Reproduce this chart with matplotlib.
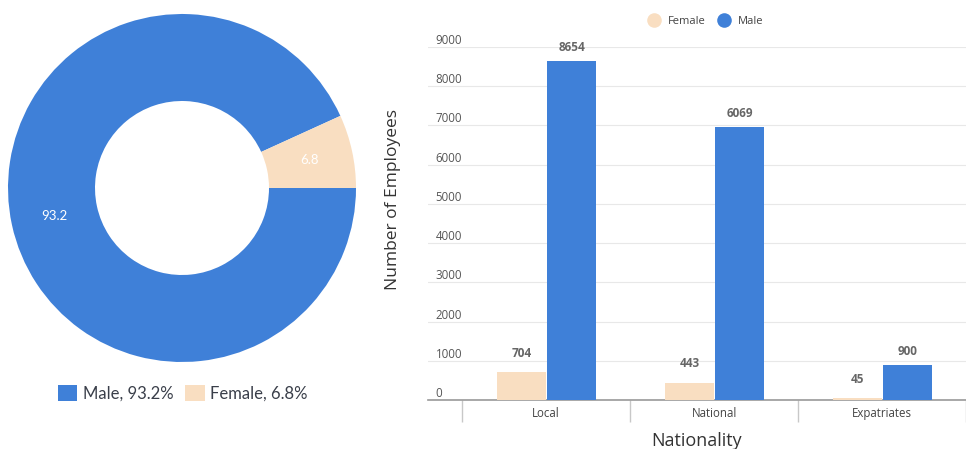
import numpy as np
import matplotlib
matplotlib.use("Agg")
import matplotlib.pyplot as plt
from matplotlib.lines import Line2D
from matplotlib.patches import Patch

# donut data
gender_labels = ["Male", "Female"]
gender_share = [93.2, 6.8]

# bar data
nationality = ["Local", "National", "Expatriates"]
female_counts = [704, 443, 45]
male_counts = [8654, 6960, 900]
female_text = ["704", "443", "45"]
male_text = ["8654", "6069", "900"]
y_ticks = [0, 1000, 2000, 3000, 4000, 5000, 6000, 7000, 8000, 9000]

BLUE = "#3F80D8"
PEACH = "#F9DEC1"

W, H = 966, 449
fig = plt.figure(figsize=(W / 100, H / 100), dpi=100)

# ---- donut ----
ax1 = fig.add_axes([8 / W, (H - 362) / H, 348 / W, 348 / H])
wedges, _, autotexts = ax1.pie(gender_share, colors=[BLUE, PEACH], startangle=0,
                               counterclock=False, radius=1,
                               autopct=lambda p: "%.1f" % p, pctdistance=0.75,
                               wedgeprops=dict(width=0.5, edgecolor="none"),
                               textprops=dict(color="white", fontsize=9.5,
                                              family="Lato"))
ax1.set_xlim(-1, 1)
ax1.set_ylim(-1, 1)
ax1.set_aspect("equal")
handles = [Patch(facecolor=c, edgecolor="none") for c in [BLUE, PEACH]]
fig.legend(handles, ["%s, %.1f%%" % (l, v) for l, v in zip(gender_labels, gender_share)],
           loc="center", bbox_to_anchor=(183 / W, (H - 393) / H), ncol=2,
           frameon=False, prop=dict(family="Lato", size=12),
           handlelength=1.15, handleheight=1.15, handletextpad=0.35,
           columnspacing=0.7, labelcolor="#3a3f4a")

# ---- bars ----
ax2 = fig.add_axes([428 / W, (H - 400) / H, (W - 428) / W, 353 / H])
x = np.arange(len(nationality))
bw = 0.292
b1 = ax2.bar(x - bw / 2, female_counts, bw, color=PEACH, zorder=3)
b2 = ax2.bar(x + bw / 2 + 0.006, male_counts, bw, color=BLUE, zorder=3)
ax2.bar_label(b1, labels=female_text, padding=9, fontsize=8.5, fontweight="bold",
              color="#666666", family="Open Sans")
ax2.bar_label(b2, labels=male_text, padding=5, fontsize=8.5, fontweight="bold",
              color="#666666", family="Open Sans")

ax2.set_xlim(-0.704, 2.433)
ax2.set_ylim(0, 9000)
ax2.set_yticks(y_ticks)
ax2.set_yticklabels([str(t) for t in y_ticks], fontsize=8.3, color="#555555",
                    family="Open Sans")
for lab in ax2.get_yticklabels():
    lab.set_ha("left")
    lab.set_va("bottom")
ax2.tick_params(axis="y", length=0, pad=-5.5)
ax2.grid(axis="y", color="#e8e8e8", linewidth=0.8, zorder=0)

ax2.set_xticks(x)
ax2.set_xticklabels(nationality, fontsize=8.3, color="#444444", family="Open Sans")
ax2.set_xticks([-0.5, 0.5, 1.5, 2.5], minor=True)
ax2.tick_params(axis="x", which="major", length=0, pad=5)
ax2.tick_params(axis="x", which="minor", length=16, color="#c8c8c8", width=1)

for s in ["top", "right", "left"]:
    ax2.spines[s].set_visible(False)
ax2.spines["bottom"].set_color("#999999")
ax2.spines["bottom"].set_linewidth(1.2)

ax2.set_xlabel("Nationality", fontsize=13, color="#333333", family="Open Sans",
               labelpad=4)
fig.text(393 / W, (H - 200) / H, "Number of Employees", rotation=90, ha="center",
         va="center", fontsize=12.5, color="#333333", family="Open Sans")

leg_handles = [Line2D([], [], marker="o", linestyle="none", markersize=10.5,
                      markerfacecolor=c, markeredgecolor="none") for c in [PEACH, BLUE]]
fig.legend(leg_handles, ["Female", "Male"], loc="center",
           bbox_to_anchor=(703 / W, (H - 21) / H), ncol=2, frameon=False,
           prop=dict(family="Open Sans", size=8), labelcolor="#444444",
           handletextpad=0.3, columnspacing=0.6)

fig.savefig("out.png", dpi=100)
